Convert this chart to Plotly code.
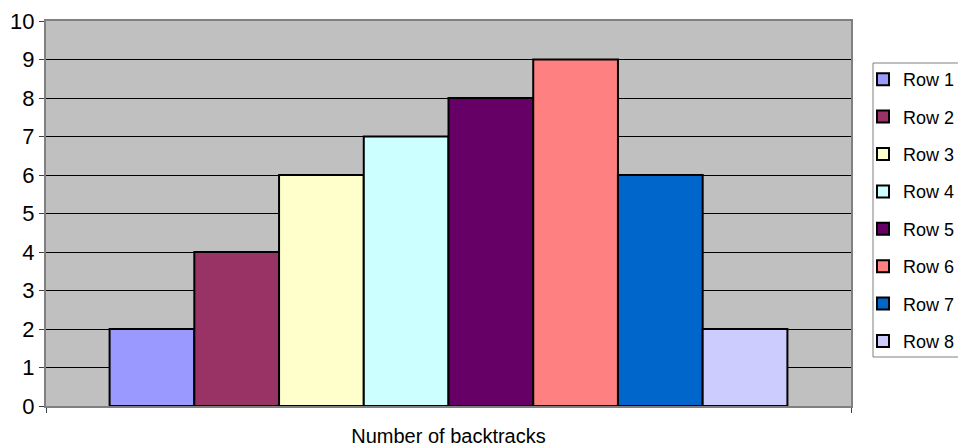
import plotly.graph_objects as go

# Series values (one bar per row, all in a single category)
series_names = ["Row 1", "Row 2", "Row 3", "Row 4", "Row 5", "Row 6", "Row 7", "Row 8"]
series_values = [2, 4, 6, 7, 8, 9, 6, 2]
series_colors = ["#9999FF", "#993366", "#FFFFCC", "#CCFFFF",
                 "#660066", "#FF8080", "#0066CC", "#CCCCFF"]
category = ["backtracks"]
y_ticks = list(range(0, 11))

# plot-area geometry in pixels
W, H = 958, 448
L, R, T, B = 46, 851, 21, 406
PW, PH = R - L, B - T


def px_x(x):
    return (x - L) / PW


def px_y(y):
    return (B - y) / PH


fig = go.Figure()
for i, (name, val, col) in enumerate(zip(series_names, series_values, series_colors)):
    fig.add_trace(go.Bar(
        x=category, y=[val], name=name,
        marker=dict(color=col, line=dict(color="black", width=2)),
        legendgroup=f"g{i}",
    ))

# legend frame
fig.add_shape(type="rect", xref="paper", yref="paper",
              x0=px_x(873), x1=px_x(990), y0=px_y(357), y1=px_y(63),
              fillcolor="white", line=dict(color="#808080", width=1), layer="above")

fig.update_layout(
    width=W, height=H,
    barmode="group", bargap=0.158, bargroupgap=0,
    paper_bgcolor="white", plot_bgcolor="#C0C0C0",
    margin=dict(l=L, r=W - R, t=T, b=H - B, autoexpand=False),
    font=dict(family="Liberation Sans, Arial, sans-serif", color="black"),
    showlegend=True,
    legend=dict(
        x=px_x(863), xanchor="left",
        y=px_y(61), yanchor="top",
        bgcolor="rgba(0,0,0,0)", borderwidth=0,
        font=dict(size=18, color="black"),
        tracegroupgap=11, itemwidth=30,
    ),
    xaxis=dict(
        showticklabels=False, tickson="boundaries", ticks="outside",
        ticklen=5, tickcolor="#404040",
        showline=True, linecolor="#808080", linewidth=2, mirror=True,
        title=dict(text="Number of backtracks", font=dict(size=20), standoff=22),
        showgrid=False,
    ),
    yaxis=dict(
        range=[0, 10], tickvals=y_ticks, ticks="outside", ticklen=5,
        tickcolor="#404040", tickfont=dict(size=22),
        showline=True, linecolor="#808080", linewidth=2, mirror=True,
        showgrid=True, gridcolor="black", gridwidth=1,
        zeroline=False,
    ),
)

fig.write_html("out.html")
